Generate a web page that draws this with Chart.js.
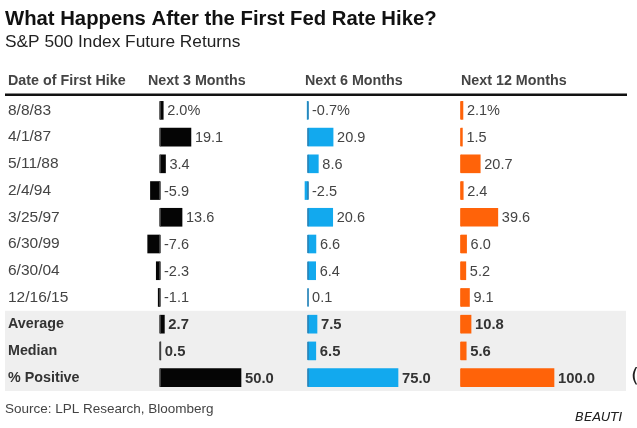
<!DOCTYPE html>
<html>
<head>
<meta charset="utf-8">
<script src="https://cdn.jsdelivr.net/npm/chart.js@4.4.1/dist/chart.umd.min.js"></script>
<style>
  html, body { margin: 0; padding: 0; background: #fff; }
  #wrap { position: relative; width: 637px; height: 428px; }
</style>
</head>
<body>
<div id="wrap"><canvas id="hikeChart"></canvas></div>
<script>
// data
const rowLabels = ['8/8/83', '4/1/87', '5/11/88', '2/4/94', '3/25/97', '6/30/99', '6/30/04', '12/16/15', 'Average', 'Median', '% Positive'];
const next3Months = [2.0, 19.1, 3.4, -5.9, 13.6, -7.6, -2.3, -1.1, 2.7, 0.5, 50.0];
const next6Months = [-0.7, 20.9, 8.6, -2.5, 20.6, 6.6, 6.4, 0.1, 7.5, 6.5, 75.0];
const next12Months = [2.1, 1.5, 20.7, 2.4, 39.6, 6.0, 5.2, 9.1, 10.8, 5.6, 100.0];
const headerLabels = ['Date of First Hike', 'Next 3 Months', 'Next 6 Months', 'Next 12 Months'];
const summaryStart = 8; // first of the Average / Median / % Positive rows

const titleText = 'What Happens After the First Fed Rate Hike?';
const subtitleText = 'S&P 500 Index Future Returns';
const sourceText = 'Source: LPL Research, Bloomberg';

const FONT = '"Liberation Sans", Arial, sans-serif';
const W = 637;

// each column gets its own hidden x axis so the zero sits under its header
const columns = [
    { data: next3Months, axis: 'x1', color: '#050505', zeroColor: '#555555', zeroPx: 160, pxPerUnit: 1.62, headerX: 148 },
    { data: next6Months, axis: 'x2', color: '#12a9ee', zeroColor: '#2a7fb2', zeroPx: 308, pxPerUnit: 1.2, headerX: 305 },
    { data: next12Months, axis: 'x3', color: '#ff6309', zeroColor: '#ff6309', zeroPx: 461, pxPerUnit: 0.93, headerX: 461 },
];

function axisFor(col) {
    return {
        type: 'linear',
        display: false,
        min: -col.zeroPx / col.pxPerUnit,
        max: (W - col.zeroPx) / col.pxPerUnit,
    };
}

const tableDecor = {
    id: 'tableDecor',
    beforeDatasetsDraw(chart) {
        const ctx = chart.ctx;
        const y = chart.scales.y;
        const area = chart.chartArea;
        const rowH = y.getPixelForValue(1) - y.getPixelForValue(0);
        ctx.save();

        // grey band behind the summary rows
        const bandTop = y.getPixelForValue(summaryStart) - rowH / 2;
        ctx.fillStyle = '#efefef';
        ctx.fillRect(5, bandTop, 621, area.bottom - bandTop);

        ctx.textBaseline = 'alphabetic';
        ctx.textAlign = 'left';
        ctx.fillStyle = '#111';
        ctx.font = 'bold 20.3px ' + FONT;
        ctx.fillText(titleText, 5, 25);

        ctx.fillStyle = '#222';
        ctx.font = '17.3px ' + FONT;
        ctx.fillText(subtitleText, 5, 47);

        ctx.fillStyle = '#444';
        ctx.font = 'bold 14.3px ' + FONT;
        ctx.fillText(headerLabels[0], 8, 85);
        columns.forEach((col, i) => ctx.fillText(headerLabels[i + 1], col.headerX, 85));

        // rule under the header
        ctx.fillStyle = '#111';
        ctx.fillRect(5, 93.5, 622, 2.5);

        ctx.fillStyle = '#444';
        ctx.font = '13.5px ' + FONT;
        ctx.fillText(sourceText, 5, 413);

        ctx.fillStyle = '#222';
        ctx.font = 'italic 13px "DejaVu Sans", sans-serif';
        ctx.fillText('BEAUTI', 575, 421);
        ctx.font = '20px "DejaVu Sans", sans-serif';
        ctx.fillText('(', 631, 382);

        ctx.restore();
    },
    afterDatasetsDraw(chart) {
        const ctx = chart.ctx;
        const y = chart.scales.y;
        ctx.save();
        ctx.textBaseline = 'middle';

        rowLabels.forEach((label, j) => {
            const cy = y.getPixelForValue(j);
            const summary = j >= summaryStart;
            ctx.fillStyle = summary ? '#333' : '#444';
            ctx.font = (summary ? 'bold 14.3px ' : '15.5px ') + FONT;
            ctx.textAlign = 'left';
            ctx.fillText(label, 8, cy);
        });

        columns.forEach((col, i) => {
            const meta = chart.getDatasetMeta(i);
            meta.data.forEach((bar, j) => {
                const v = col.data[j];
                const h = bar.height;
                // short zero line at the base of every bar
                ctx.fillStyle = col.zeroColor;
                ctx.fillRect(bar.base - 0.75, bar.y - h / 2, 1.5, h);

                const summary = j >= summaryStart;
                const txt = v.toFixed(1) + (j === 0 ? '%' : '');
                const tx = v >= 0 ? Math.max(bar.x, bar.base) + 4 : bar.base + 4;
                ctx.fillStyle = summary ? '#333' : '#444';
                ctx.font = (summary ? 'bold 14.8px ' : '14.5px ') + FONT;
                ctx.textAlign = 'left';
                ctx.fillText(txt, tx, bar.y + 1);
            });
        });
        ctx.restore();
    }
};

new Chart(document.getElementById('hikeChart'), {
    type: 'bar',
    data: {
        labels: rowLabels,
        datasets: columns.map((col, i) => ({
            label: headerLabels[i + 1],
            data: col.data,
            xAxisID: col.axis,
            backgroundColor: col.color,
            borderWidth: 0,
            barThickness: 18,
            grouped: false,
        })),
    },
    options: {
        indexAxis: 'y',
        responsive: true,
        maintainAspectRatio: false,
        animation: false,
        layout: { padding: { top: 97, bottom: 37, left: 0, right: 0 } },
        plugins: {
            legend: { display: false },
            tooltip: { enabled: false },
            title: { display: false },
        },
        scales: {
            y: { type: 'category', display: false, offset: true, grid: { display: false } },
            x1: axisFor(columns[0]),
            x2: axisFor(columns[1]),
            x3: axisFor(columns[2]),
        },
    },
    plugins: [tableDecor],
});
</script>
</body>
</html>
